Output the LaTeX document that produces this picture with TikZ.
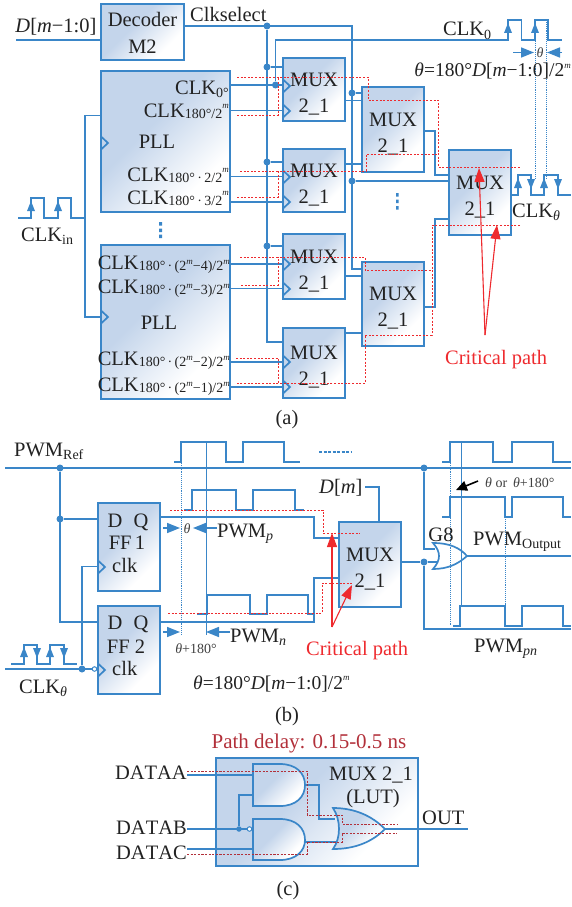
\documentclass[tikz,border=0pt]{standalone}
\usepackage{fontspec}
\setmainfont{Liberation Serif}
\newfontfamily\nokern[Kerning=Off]{Liberation Serif}
\usetikzlibrary{arrows.meta}
\definecolor{wireblue}{HTML}{3A86C8}
\definecolor{boxblue}{HTML}{C4D5EB}
\definecolor{critred}{HTML}{EE2A2E}
\definecolor{delayred}{HTML}{B2303A}
\definecolor{inkgray}{HTML}{222222}
\pgfdeclareverticalshading{boxgrad}{100bp}{color(0bp)=(white);color(30bp)=(white);color(58bp)=(boxblue);color(100bp)=(boxblue)}
\newcommand{\lowt}[2][14]{\raisebox{-0.17em}{\fontsize{#1}{#1}\selectfont #2}}
\newcommand{\midt}[1]{\raisebox{-0.07em}{\fontsize{14}{14}\selectfont #1}}
\newcommand{\hit}[1]{\raisebox{0.42em}{\fontsize{9}{9}\selectfont\itshape #1}}
\newcommand{\muxtxt}{\rule{0pt}{22pt}MUX\\2\_1}
\tikzset{
 wire/.style={draw=wireblue,line width=1.7pt,line join=miter},
 blk/.style={draw=wireblue,line width=1.8pt,shading=boxgrad,shading angle=45,inner sep=0pt,align=center,text=inkgray,font=\fontsize{20.5}{26}\selectfont},
 muxblk/.style={blk,minimum width=62pt},
 lab/.style={inner sep=0pt,text=inkgray,font=\fontsize{20.5}{24}\selectfont},
 small/.style={lab,font=\fontsize{14}{15}\selectfont,text=black!75},
 redlab/.style={lab,text=critred},
 dotn/.style={circle,fill=wireblue,inner sep=0pt,minimum size=7pt},
 hollow/.style={circle,draw=wireblue,fill=white,line width=1pt,inner sep=0pt,minimum size=4.5pt},
 crit/.style={draw=critred,line width=.95pt,dash pattern=on 2pt off 1.6pt},
 delay/.style={draw=delayred,line width=.95pt,dash pattern=on 2.2pt off 1.4pt},
 vdot/.style={draw=wireblue,line width=.9pt,densely dotted},
 vthin/.style={draw=wireblue,line width=.7pt},
 measure/.style={draw=wireblue,line width=1.6pt,-{Triangle[length=13pt,width=10pt,fill=wireblue]}},
 redarrow/.style={draw=critred,line width=1.1pt,-{Triangle[length=14pt,width=10pt,fill=critred]}},
 gate/.style={draw=wireblue,line width=1.7pt,shading=boxgrad,shading angle=45},
}
\newcommand{\clktri}[2]{\draw[wire] (#1,#2-6.5) -- (#1+7,#2) -- (#1,#2+6.5);}
\newcommand{\pup}[2]{\fill[wireblue] (#1,#2-17) -- (#1-4,#2-7) -- (#1+4,#2-7) -- cycle;}
\newcommand{\pdn}[2]{\fill[wireblue] (#1,#2-6) -- (#1-4,#2-16) -- (#1+4,#2-16) -- cycle;}
\begin{document}
\begin{tikzpicture}[x=1pt,y=-1pt]
\useasboundingbox (0,0) rectangle (571,907);
% ---------- (a) blocks
\node[blk,minimum width=83pt,minimum height=56pt] (dec) at (142.5,32) {\rule{0pt}{16pt}Decoder\\M2};
\node[blk,minimum width=129pt,minimum height=141pt] (pll1) at (165.5,141.5) {};
\node[blk,minimum width=129pt,minimum height=154pt] (pll2) at (165.5,322) {};
\node[muxblk,minimum height=63pt] (a1) at (314,89.5) {\muxtxt};
\node[muxblk,minimum height=63pt] (a2) at (314,180.5) {\muxtxt};
\node[muxblk,minimum height=65pt] (a3) at (314,266.5) {\muxtxt};
\node[muxblk,minimum height=70pt] (a4) at (314,363) {\muxtxt};
\node[muxblk,minimum height=85pt] (b1) at (393,129.5) {\muxtxt};
\node[muxblk,minimum height=84pt] (b2) at (393,304) {\muxtxt};
\node[muxblk,minimum height=85pt] (c1) at (480,192.5) {\muxtxt};
% junctions
\node[dotn] (j0) at (267,26) {};
\node[dotn] (j1) at (267,67) {};
\node[dotn] (j2) at (267,162) {};
\node[dotn] (j3) at (267,246) {};
\node[dotn] (j4) at (275.5,85) {};
\node[dotn] (j5) at (352,93) {};
\node[dotn] (j6) at (352,181) {};
\coordinate (din) at (16,40);
\coordinate (cin) at (18,218);
% wires
\draw[wire] (din) -- (din -| dec.west);
\draw[wire] (dec.east |- j0) -- (352,26) -- (352,269) -- (b2.west |- 0,269);
\draw[wire] (j0) -- (267,342) -- (a4.west |- 0,342);
\draw[wire] (j1) -- (j1 -| a1.west);
\draw[wire] (j2) -- (j2 -| a2.west);
\draw[wire] (j3) -- (j3 -| a3.west);
\draw[wire] (pll1.east |- j4) -- (j4 -| a1.west);
\draw[wire] (j4) -- (275.5,40) -- (508,40) -- (508,20) -- (521.5,20) -- (521.5,40) -- (535,40) -- (535,20) -- (548,20) -- (548,40) -- (562,40);
\draw[wire] (pll1.east |- 0,110.5) -- (a1.west |- 0,110.5);
\draw[wire] (pll1.east |- 0,176.5) -- (a2.west |- 0,176.5);
\draw[wire] (pll1.east |- 0,202) -- (a2.west |- 0,202);
\draw[wire] (pll2.east |- 0,264) -- (a3.west |- 0,264);
\draw[wire] (pll2.east |- 0,288.5) -- (a3.west |- 0,288.5);
\draw[wire] (pll2.east |- 0,362) -- (a4.west |- 0,362);
\draw[wire] (pll2.east |- 0,387) -- (a4.west |- 0,387);
\draw[wire] (pll1.west |- 0,115.5) -- (85,115.5) -- (85,317) -- (pll2.west |- 0,317);
\draw[wire] (cin) -- (31,218) -- (31,198) -- (44,198) -- (44,218) -- (58,218) -- (58,198) -- (71,198) -- (71,218) -- (85,218);
\draw[wire] (a1.east |- 0,100.5) -- (b1.west |- 0,100.5);
\draw[wire] (a2.east |- 0,164) -- (b1.west |- 0,164);
\draw[wire] (j5) -- (j5 -| b1.west);
\draw[wire] (j6) -- (j6 -| c1.west);
\draw[wire] (b1.east |- 0,131) -- (435,131) -- (435,175) -- (c1.west |- 0,175);
\draw[wire] (b2.east |- 0,307) -- (435,307) -- (435,219) -- (c1.west |- 0,219);
\draw[wire] (a3.east |- 0,276) -- (b2.west |- 0,276);
\draw[wire] (a4.east |- 0,333) -- (b2.west |- 0,333);
\draw[wire] (c1.east |- 0,195) -- (518,195) -- (518,175) -- (531,175) -- (531,195) -- (544,195) -- (544,175) -- (558,175) -- (558,195) -- (571,195);
% clock triangles and pulse arrows
\clktri{101}{143}\clktri{101}{317}
\clktri{283}{86}\clktri{283}{111}\clktri{283}{177}\clktri{283}{202}
\clktri{283}{264}\clktri{283}{289}\clktri{283}{362}\clktri{283}{387}
\pup{31}{218}\pup{58}{218}\pup{508}{40}\pup{535}{40}
\pup{518}{195}\pdn{531}{195}\pup{544}{195}\pdn{558}{195}
% theta measure
\draw[vdot] (535,22) -- (535,178);
\draw[vdot] (546,22) -- (546,178);
\coordinate (tl) at (513,52.5);\coordinate (tr) at (562,52.5);
\draw[measure] (tl) -- (534,52.5);
\draw[measure] (tr) -- (547,52.5);
\fill[wireblue] (396,193) rectangle (398.5,196.5) (396,199.5) rectangle (398.5,203) (396,206) rectangle (398.5,209.5);
\fill[wireblue] (159,222) rectangle (162,225.5) (159,228.5) rectangle (162,232) (159,234.5) rectangle (162,238);
% labels (a)
\node[lab,anchor=base] (t1) at (56,33) {\textit{D}[\textit{m}−1:0]};
\node[lab,anchor=base west] (t2) at (190,22) {Clkselect};
\node[lab,anchor=base east] (t3) at (229,94) {CLK\lowt{0°}};
\node[lab,anchor=base east] (t4) at (229,117) {CLK\midt{180°/2}\hit{m}};
\node[lab,anchor=base east] (t5) at (229,181) {CLK\midt{180°\,·\,2/2}\hit{m}};
\node[lab,anchor=base east] (t6) at (229,204) {CLK\midt{180°\,·\,3/2}\hit{m}};
\node[lab,anchor=base] (t7) at (157,148) {PLL};
\node[lab,anchor=base] (t8) at (159,329) {PLL};
\newcommand{\bigsub}[1]{\midt{180°\,·\,(2\hit{m}−#1)/2\hit{m}}}
\node[lab,anchor=base east] (t9) at (230,269) {CLK\bigsub{4}};
\node[lab,anchor=base east] (t10) at (230,293) {CLK\bigsub{3}};
\node[lab,anchor=base east] (t11) at (230,365) {CLK\bigsub{2}};
\node[lab,anchor=base east] (t12) at (230,391) {CLK\bigsub{1}};
\node[lab,anchor=base west] (t13) at (443,36) {CLK\lowt{0}};
\node[lab,anchor=base west] (t14) at (21,241) {CLK\lowt{in}};
\node[lab,anchor=base west] (t15) at (512,217) {CLK\lowt{\textit{θ}}};
\node[lab,anchor=base east,font=\fontsize{19.5}{22}\selectfont] (t16) at (571,77) {\textit{θ}=180°\textit{D}[\textit{m}−1:0]/2\hit{m}};
\node[small,anchor=base] (t17) at (540,57) {\textit{θ}};
\node[redlab,anchor=base west] (crita) at (445,364) {Critical path};
\node[lab,anchor=base] (capa) at (287,424) {(a)};
% critical path (a)
\draw[crit] (237,77) -- (368,77) -- (368,100) -- (438,100) -- (438,167) -- (520,167);
\draw[crit] (237,115) -- (278,115) -- (278,77);
\draw[crit] (240,171) -- (366,171) -- (366,154) -- (438,154);
\draw[crit] (237,197) -- (278,197) -- (278,171);
\draw[crit] (240,257) -- (365,257) -- (365,270) -- (432,270);
\draw[crit] (241,285) -- (278,285) -- (278,257);
\draw[crit] (520,225) -- (432,225) -- (432,335) -- (365,335) -- (365,383) -- (236,383);
\draw[crit] (236,358) -- (278,358) -- (278,383);
\coordinate (apa) at (485,335);
\draw[redarrow] (apa) -- (479,168);
\draw[redarrow] (apa) -- (497,225);
% ---------- (b) blocks
\node[blk,minimum width=62pt,minimum height=88pt] (ff1) at (129,547) {};
\node[blk,minimum width=62pt,minimum height=88pt] (ff2) at (129,650) {};
\node[muxblk,minimum height=85pt] (mb) at (370,564.5) {\muxtxt};
\node[dotn] (k0) at (60,468) {};
\node[dotn] (k1) at (60,519) {};
\node[dotn] (k2) at (82,669) {};
\node[dotn] (k3) at (424,468) {};
\node[dotn] (k4) at (424,562) {};
\node[hollow] (k5) at (94.5,669) {};
\coordinate (rl) at (5,468);\coordinate (rr) at (571,468);
\coordinate (cl) at (5,669);
\coordinate (dm) at (365,487);
\coordinate (orout) at (467,556);
\draw[wire] (rl) -- (rr);
\draw[wire] (k0) -- (60,622) -- (ff2.west |- 0,622);
\draw[wire] (k1) -- (k1 -| ff1.west);
\draw[wire] (cl) -- (k5);
\draw[wire] (k2) -- (82,566.5) -- (ff1.west |- 0,566.5);
\draw[wire] (ff1.east |- 0,517) -- (314,517) -- (314,538) -- (mb.west |- 0,538);
\draw[wire] (ff2.east |- 0,622) -- (314,622) -- (314,578) -- (mb.west |- 0,578);
\draw[wire] (dm) -- (379,487) -- (mb.north -| 379,0);
\draw[wire] (mb.east |- k4) -- (k4) -- (437,562);
\draw[wire] (k3) -- (424,549) -- (435,549);
\draw[wire] (k4) -- (424,629) -- (571,629);
\draw[wire] (orout) -- (571,556);
\draw[wire,fill=none] (433,543) .. controls (441,552) and (441,560) .. (433,569) .. controls (448,569) and (458,564) .. (467,556) .. controls (460,548) and (450,543) .. cycle;
% waveforms
\tikzset{wave/.style={wire,line width=1.7pt}}
\draw[wave] (174,462) -- (181,462) -- (181,442) -- (226,442) -- (226,462) -- (243,462) -- (243,442) -- (284,442) -- (284,462) -- (300,462);
\draw[wire,dash pattern=on 3pt off 1.5pt,line width=1.2pt] (319,452) -- (352,452);
\draw[wave] (184,510) -- (192,510) -- (192,490) -- (236,490) -- (236,510) -- (253,510) -- (253,490) -- (295,490) -- (295,510) -- (304,510);
\draw[wave] (197,614) -- (207,614) -- (207,595) -- (250,595) -- (250,614) -- (267,614) -- (267,595) -- (308,595) -- (308,614) -- (314,614);
\draw[wave] (442,462) -- (450,462) -- (450,442) -- (493,442) -- (493,462) -- (512,462) -- (512,442) -- (553,442) -- (553,462) -- (571,462);
\draw[wave] (442,517) -- (450,517) -- (450,497) -- (505,497) -- (505,517) -- (512,517) -- (512,497) -- (563,497) -- (563,517) -- (571,517);
\draw[wave] (453,626) -- (460,626) -- (460,606) -- (505,606) -- (505,626) -- (522,626) -- (522,606) -- (563,606) -- (563,626) -- (571,626);
\draw[wave] (11,664) -- (24,664) -- (24,645) -- (37,645) -- (37,664) -- (50,664) -- (50,645) -- (64,645) -- (64,664) -- (77,664);
\pup{24}{664}\pdn{37}{664}\pup{50}{664}\pdn{64}{664}
\clktri{98}{567}\clktri{98}{670}
\draw[vdot] (181,442) -- (181,635);
\draw[vthin] (206,442) -- (206,635);
\draw[vdot] (450,442) -- (450,625);
\draw[vthin] (461,442) -- (461,606);
\draw[vdot] (505,517) -- (505,606);
\coordinate (m1) at (163,528);\coordinate (m2) at (217,528);
\coordinate (m3) at (163,632);\coordinate (m4) at (230,632);
\draw[measure] (m1) -- (180,528);
\draw[measure] (m2) -- (193,528);
\draw[measure] (m3) -- (180,632);
\draw[measure] (m4) -- (206,632);
\coordinate (bk) at (478,481);
\draw[line width=1.6pt,-{Triangle[length=11pt,width=10pt]}] (bk) -- (456,490);
% labels (b)
\node[lab,anchor=base west] (u1) at (14,456) {PWM\lowt{Ref}};
\node[lab,anchor=base] (u2) at (115,527) {D};
\node[lab,anchor=base] (u3) at (141,527) {Q};
\node[lab,anchor=base] (u4) at (127,549) {FF\,1};
\node[lab,anchor=base west] (u5) at (112,572) {clk};
\node[lab,anchor=base] (u6) at (115,629) {D};
\node[lab,anchor=base] (u7) at (141,629) {Q};
\node[lab,anchor=base] (u8) at (126,653) {FF 2};
\node[lab,anchor=base west] (u9) at (112,675) {clk};
\node[lab,anchor=base west] (u10) at (19,693) {CLK\lowt{\textit{θ}}};
\node[lab,anchor=base west] (u11) at (217,537) {PWM\lowt{\textit{p}}};
\node[lab,anchor=base west] (u12) at (230,642) {PWM\lowt{\textit{n}}};
\node[small,anchor=base] (u13) at (187,533) {\textit{θ}};
\node[small,anchor=base] (u14) at (196,653) {\textit{θ}+180°};
\node[lab,anchor=base west,font=\fontsize{19.5}{22}\selectfont] (u15) at (193,689) {\textit{θ}=180°\textit{D}[\textit{m}−1:0]/2\hit{m}};
\node[lab,anchor=base west] (u16) at (319,493) {\textit{D}[\textit{m}]};
\node[redlab,anchor=base west] (critb) at (306,655) {Critical path};
\node[lab,anchor=base] (u17) at (441,541) {G8};
\node[lab,anchor=base west] (u18) at (473,545) {PWM\lowt{Output}};
\node[lab,anchor=base west] (u19) at (474,652) {PWM\lowt{\textit{pn}}};
\node[small,anchor=base west] (u20) at (485,487) {\textit{θ} or\, \textit{θ}+180°};
\node[lab,anchor=base] (capb) at (287,721) {(b)};
% critical path (b)
\draw[crit] (170,510) -- (323,510) -- (323,533) -- (360,533);
\draw[crit] (168,613) -- (322,613) -- (322,583) -- (353,583);
\coordinate (apb) at (332,627);
\draw[redarrow] (apb) -- (332,533);
\draw[redarrow] (apb) -- (352,585);
% ---------- (c)
\node[blk,minimum width=202pt,minimum height=108pt] (lut) at (317,812) {};
\path[gate] (253,764) -- (280,764) .. controls (296,764) and (305,773) .. (305,785) .. controls (305,797) and (296,806) .. (280,806) -- (253,806) -- cycle;
\path[gate] (253,819) -- (280,819) .. controls (296,819) and (305,828) .. (305,840) .. controls (305,851) and (296,860) .. (280,860) -- (253,860) -- cycle;
\path[gate] (333,808) .. controls (341,820) and (341,838) .. (333,849) .. controls (355,849) and (372,842) .. (385,829) .. controls (372,816) and (355,808) .. cycle;
\node[dotn,minimum size=5.5pt] (n1) at (239,829) {};
\node[hollow] (n2) at (249.5,829) {};
\coordinate (ina) at (187,775);\coordinate (inb) at (187,829);\coordinate (inc) at (187,849);
\coordinate (outc) at (468,829);
\draw[wire] (ina) -- (253,775);
\draw[wire] (inb) -- (n2);
\draw[wire] (n1) -- (239,795) -- (253,795);
\draw[wire] (inc) -- (253,849);
\draw[wire] (305,785) -- (319,785) -- (319,819) -- (335,819);
\draw[wire] (305,842) -- (337,842);
\draw[wire] (385,829) -- (outc);
\node[lab,anchor=base,text=delayred,font=\fontsize{21}{24}\selectfont] (v1) at (309,748) {Path delay: 0.15-0.5 ns};
\node[lab,anchor=base east,font=\fontsize{20.5}{22}\selectfont\nokern] (v2) at (187,779) {DATAA};
\node[lab,anchor=base east,font=\fontsize{20.5}{22}\selectfont\nokern] (v3) at (187,834) {DATAB};
\node[lab,anchor=base east,font=\fontsize{20.5}{22}\selectfont\nokern] (v4) at (187,859) {DATAC};
\node[lab,anchor=base] (v5) at (371,780) {MUX 2\_1};
\node[lab,anchor=base] (v6) at (373,803) {(LUT)};
\node[lab,anchor=base west] (v7) at (422,824) {OUT};
\node[lab,anchor=base] (capc) at (288,895) {(c)};
\draw[delay] (187,771) -- (307,771) -- (307,815) -- (342,815) -- (342,824) -- (397,824);
\draw[delay] (187,854) -- (307,854) -- (307,842) -- (342,842) -- (342,833) -- (397,833);
\end{tikzpicture}
\end{document}
